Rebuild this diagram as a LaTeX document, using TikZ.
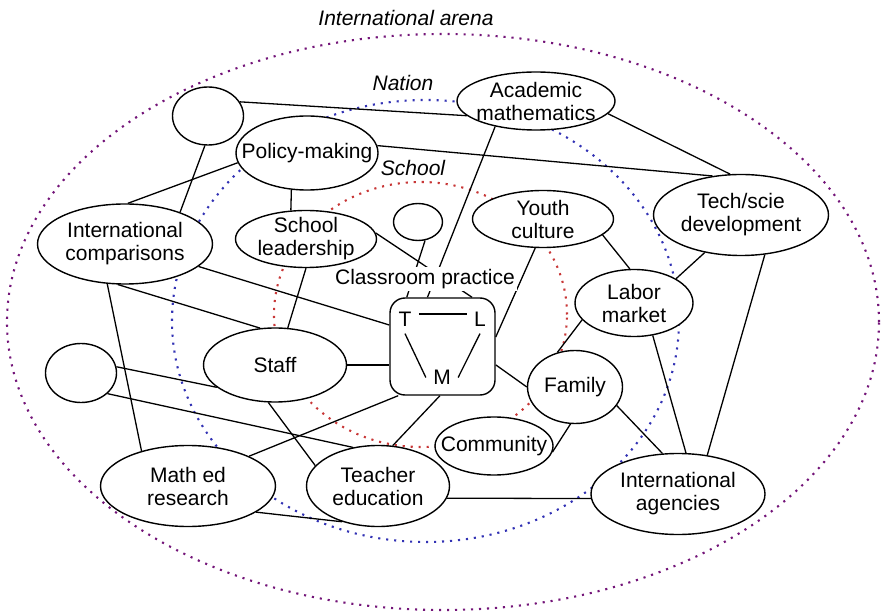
\documentclass[tikz,border=0pt]{standalone}
\usepackage{fontspec}
\setmainfont{Liberation Sans}
\usetikzlibrary{shapes.geometric,backgrounds}
\definecolor{arena}{RGB}{115,20,120}
\definecolor{nation}{RGB}{50,50,180}
\definecolor{school}{RGB}{200,55,55}
\tikzset{
  blob/.style={draw, ellipse, fill=white, inner sep=0pt, line width=0.7pt},
  sz/.style 2 args={minimum width=#1*0.5pt, minimum height=#2*0.5pt},
  txt/.style={align=center, inner sep=0pt},
  link/.style={line width=0.65pt},
  zone/.style={line width=1.05pt, dash pattern=on 1.05pt off 2.95pt},
  zonelabel/.style={font=\fontsize{10.5}{11.5}\selectfont\itshape},
  letter/.style={inner sep=3.5pt},
}
\begin{document}
\begin{tikzpicture}[x=0.5pt,y=-0.5pt,
  every node/.style={font=\fontsize{10.5}{11.5}\selectfont}]
\useasboundingbox (0,0) rectangle (883,614);

% zone captions
\node[zonelabel] (arenalbl) at (406,18) {International arena};
\node[zonelabel] (nationlbl) at (403,83) {Nation};
\node[zonelabel] (schoollbl) at (413,168) {School};

% actors
\node[blob, sz={71}{58}] (btl) at (208,116) {};
\node[blob, sz={142}{74}, label={[txt]center:Policy-making}] (pol) at (307,153) {};
\node[blob, sz={158}{58}, label={[txt]center:Academic\\mathematics}] (acad) at (536,101) {};
\node[blob, sz={175}{80}, label={[txt]center:International\\comparisons}] (ic) at (125,244) {};
\node[blob, sz={141}{57}, label={[txt]center:School\\leadership}] (sl) at (306,239) {};
\node[blob, sz={49}{37}] (sc) at (418,222) {};
\node[blob, sz={141}{57}, label={[txt]center:Youth\\culture}] (youth) at (543,219) {};
\node[blob, sz={175}{81}, label={[txt]center:Tech/scie\\development}] (tech) at (741,215) {};
\node[blob, sz={118}{67}, label={[txt]center:Labor\\market}] (labor) at (634,303) {};
\node[blob, sz={143}{74}, label={[txt]center:Staff}] (staff) at (275,365) {};
\node[blob, sz={71}{59}] (bl) at (81,373) {};
\node[blob, sz={95}{73}, label={[txt]center:Family}] (family) at (575,387) {};
\node[blob, sz={118}{58}, label={[txt]center:Community}] (comm) at (494,446) {};
\node[blob, sz={175}{81}, label={[txt]center:Math ed\\research}] (mathed) at (188,486) {};
\node[blob, sz={143}{81}, label={[txt]center:Teacher\\education}] (teach) at (378,486) {};
\node[blob, sz={174}{81}, label={[txt]center:International\\agencies}] (intag) at (678,494) {};

% classroom: teacher, learner, mathematics
\node[draw, fill=white, rounded corners=7.5pt, line width=0.7pt,
      minimum width=52.5pt, minimum height=48.5pt] (tlm) at (442.5,346.5) {};
\node[letter] (T) at (405,319) {T};
\node[letter] (L) at (480,319) {L};
\node[letter] (M) at (442,377.5) {M};
\draw[link] ([yshift=2.5pt]T.east) -- ([yshift=2.5pt]L.west);
\draw[link] (T.south) -- (M.west);
\draw[link] (L.south) -- (M.east);

\node[fill=white, inner sep=1pt] (cp) at (425,279) {Classroom practice};

\begin{scope}[on background layer]
  % nested contexts
  \draw[zone, arena] (443,322) ellipse [x radius=218pt, y radius=144pt];
  \draw[zone, nation] (425.5,321) ellipse [x radius=126.75pt, y radius=110.5pt];
  \draw[zone, school] (420.5,314.5) ellipse [x radius=73.25pt, y radius=66.25pt];

  % relations
  \draw[link] (btl.24) -- (acad.192);
  \draw[link] (btl.264) -- (ic.30);
  \draw[link] (pol.6) -- (tech.126);
  \draw[link] (pol.188) -- (ic.86);
  \draw[link] (pol.247) -- (sl.118);
  \draw[link] (sl.5) -- (tlm.59);
  \draw[link] (sc.291) -- (tlm.126);
  \draw[link] (acad.212) -- (tlm.107);
  \draw[link] (ic.343) -- (tlm.158);
  \draw[link] (ic.260) -- (staff.112);
  \draw[link] (ic.246) -- (mathed.143);
  \draw[link] (sl.270) -- (staff.71);
  \draw[link] (staff.east) -- (staff.east -| tlm.west);
  \draw[link] (bl.10) -- (staff.201);
  \draw[link] (bl.322) -- (teach.123);
  \draw[link] (mathed.26) -- (tlm.228);
  \draw[link] (staff.260) -- (teach.162);
  \draw[link] (tlm.267) -- (teach.70);
  \draw[link] (mathed.339) -- (teach.225);
  \draw[link] (teach.350) -- (intag.183);
  \draw[link] (acad.350) -- (tech.105);
  \draw[link] (youth.255) -- (tlm.10);
  \draw[link] (youth.345) -- (labor.97);
  \draw[link] (tech.226) -- (labor.30);
  \draw[link] (tech.301) -- (intag.53);
  \draw[link] (labor.300) -- (intag.79);
  \draw[link] (labor.198) -- (family.117);
  \draw[link] (tlm.341) -- (family.180);
  \draw[link] (family.263) -- (comm.354);
  \draw[link] (family.336) -- (intag.111);
\end{scope}
\end{tikzpicture}
\end{document}
